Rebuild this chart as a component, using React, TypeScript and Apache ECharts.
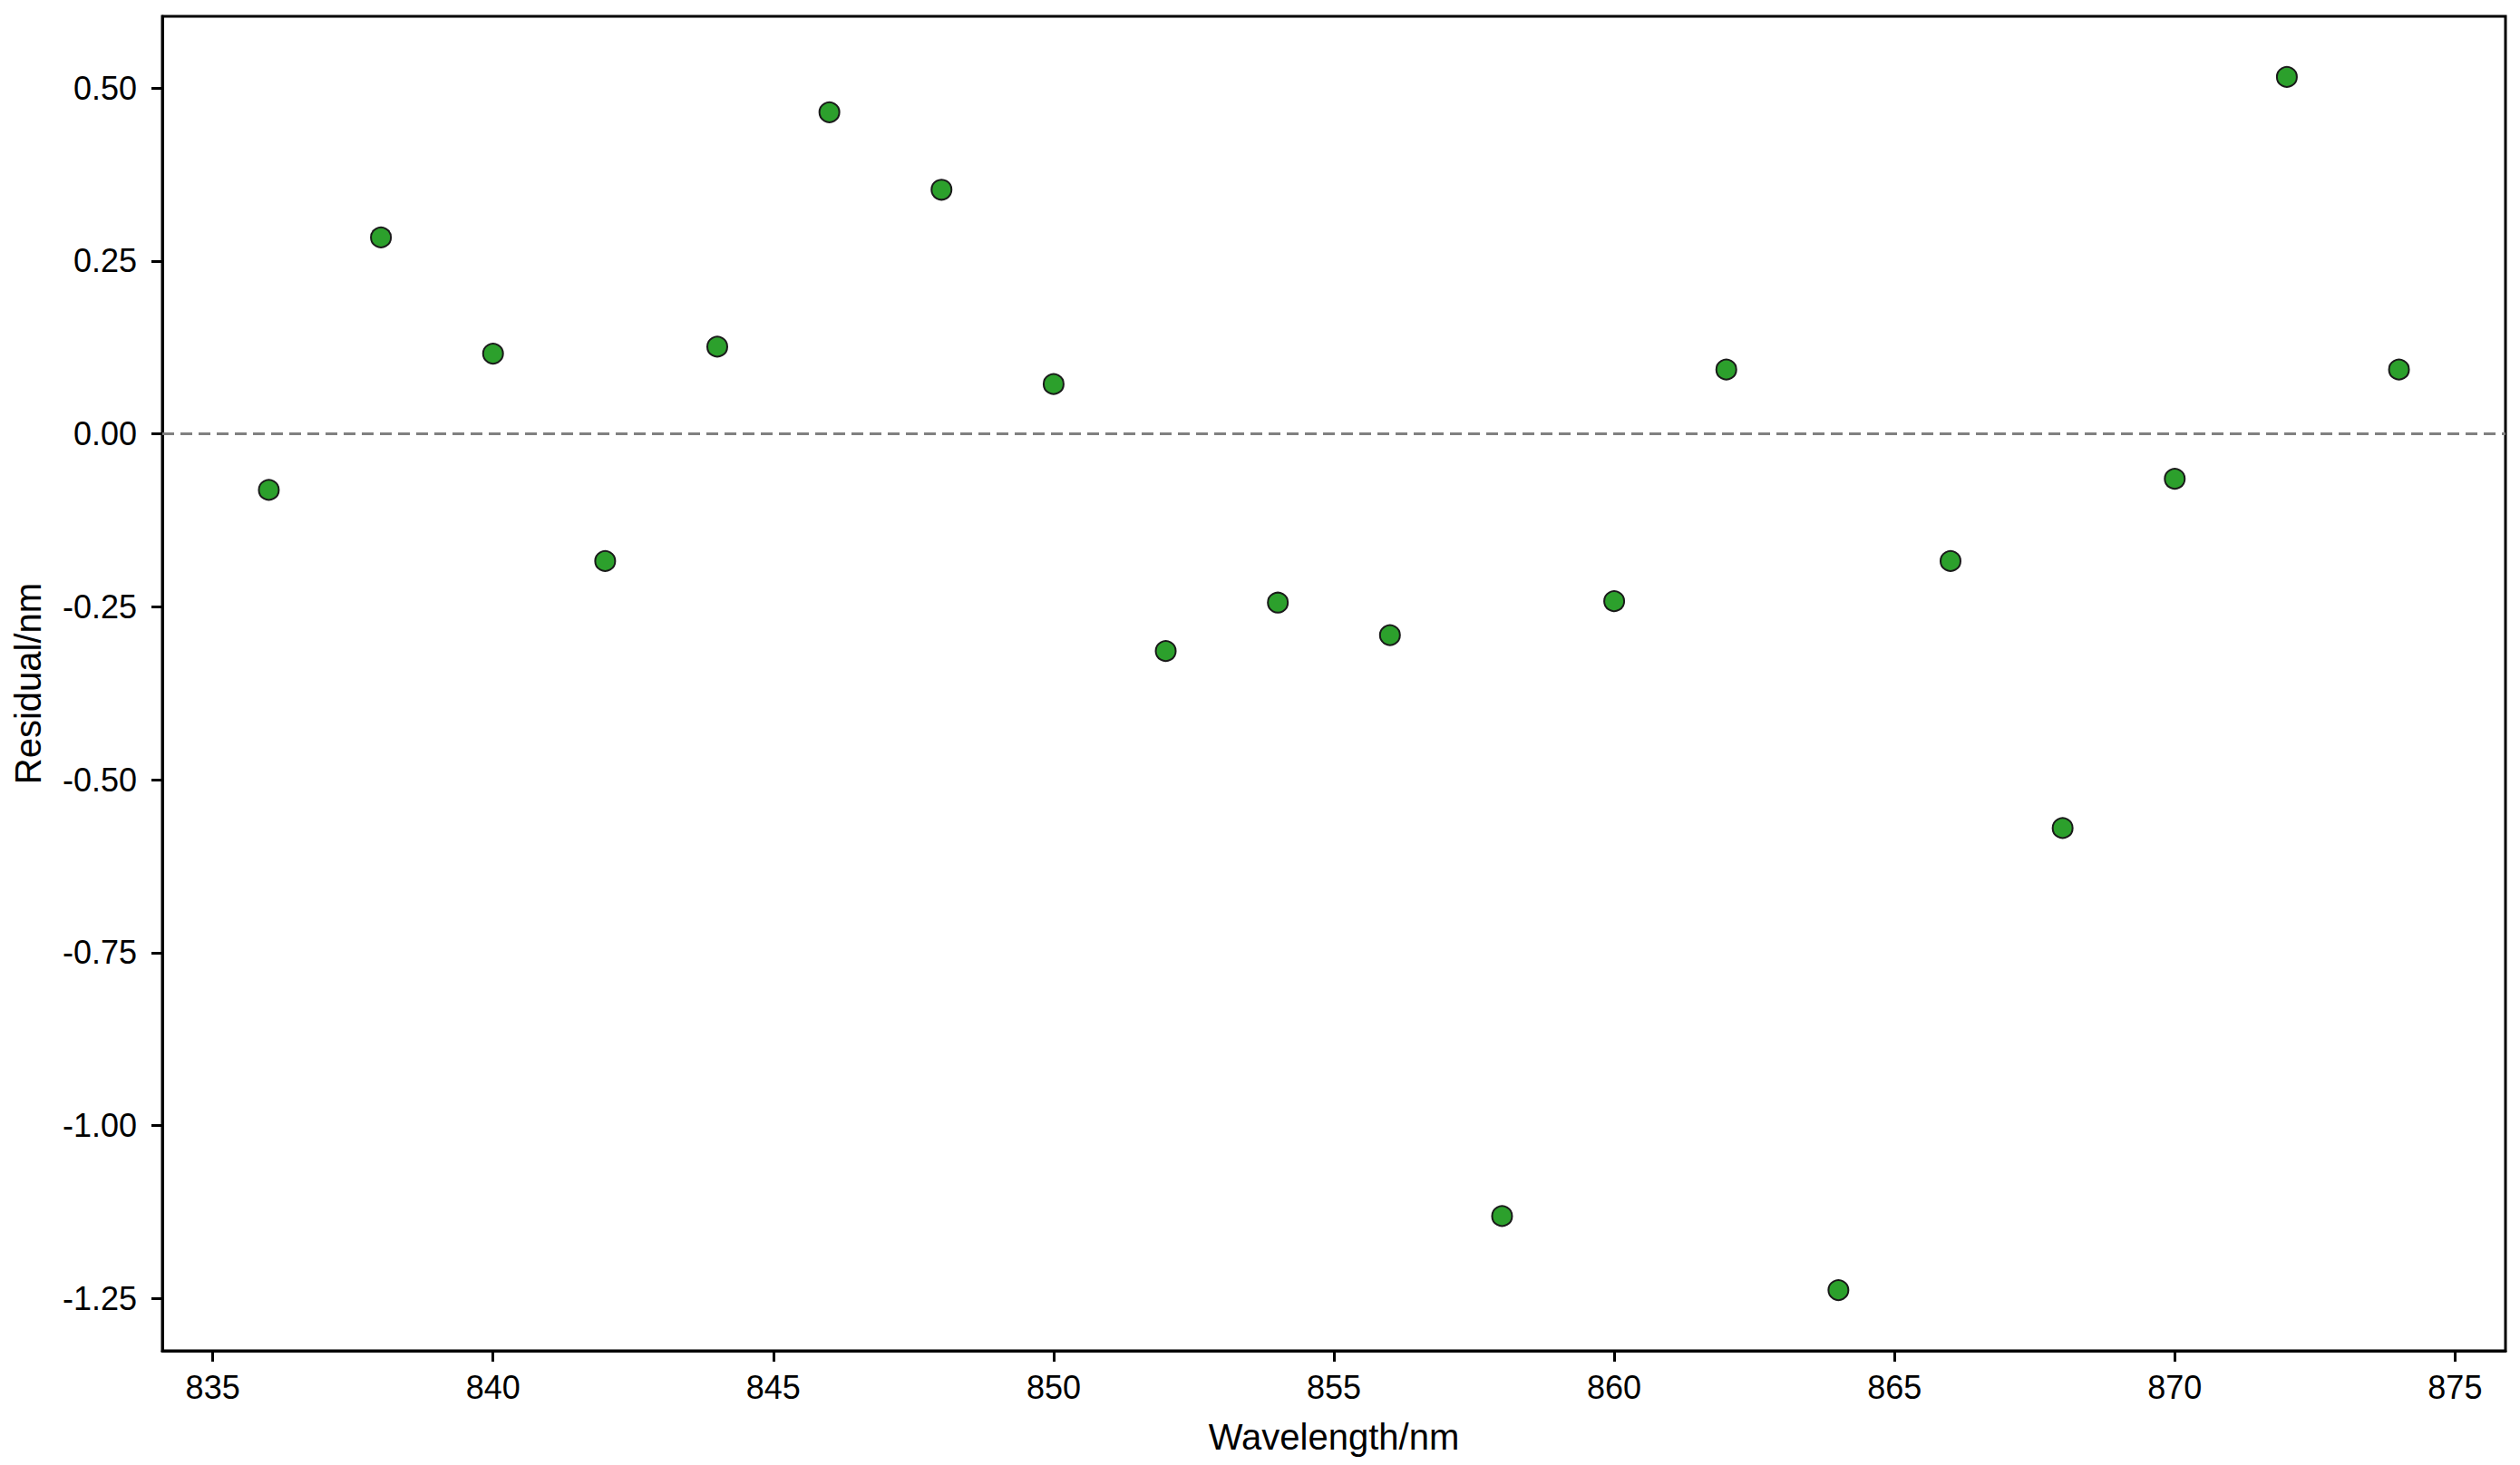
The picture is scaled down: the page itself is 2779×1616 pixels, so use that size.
import React, { useEffect, useRef } from "react";
import * as echarts from "echarts";

const wavelengths = [836, 838, 840, 842, 844, 846, 848, 850, 852, 854, 856, 858, 860, 862, 864, 866, 868, 870, 872, 874];
const residuals = [-0.081, 0.284, 0.116, -0.184, 0.126, 0.465, 0.353, 0.072, -0.314, -0.244, -0.291, -1.131, -0.242, 0.093, -1.238, -0.184, -0.570, -0.065, 0.516, 0.093];
const xTicks = [835, 840, 845, 850, 855, 860, 865, 870, 875];
const yTicks = [-1.25, -1.0, -0.75, -0.5, -0.25, 0, 0.25, 0.5];
const xTitle = "Wavelength/nm";
const yTitle = "Residual/nm";

const FONT = "'Liberation Sans', Arial, Helvetica, sans-serif";

export default function App() {
  const ref = useRef<HTMLDivElement>(null);
  useEffect(() => {
    if (!ref.current) return;
    const chart = echarts.init(ref.current, null, { renderer: "svg" });
    const xMin = Math.min(...wavelengths);
    const xMax = Math.max(...wavelengths);
    const yMin = Math.min(...residuals);
    const yMax = Math.max(...residuals);
    const xPad = (xMax - xMin) * 0.05;
    const yPad = (yMax - yMin) * 0.05;
    const data = wavelengths.map((w, i) => [w, residuals[i]]);
    chart.setOption({
      animation: false,
      backgroundColor: "#ffffff",
      textStyle: { fontFamily: FONT },
      grid: {
        left: 179,
        right: 16,
        top: 18,
        bottom: 126,
        show: true,
        borderColor: "#000",
        borderWidth: 3,
        containLabel: false,
      },
      xAxis: {
        type: "value",
        min: xMin - xPad,
        max: xMax + xPad,
        name: xTitle,
        nameLocation: "middle",
        nameGap: 75,
        nameTextStyle: { fontSize: 40, color: "#000", fontFamily: FONT },
        axisLine: { show: true, onZero: false, lineStyle: { color: "#000", width: 3 } },
        axisTick: { show: true, length: 12, lineStyle: { color: "#000", width: 3 }, customValues: xTicks },
        axisLabel: {
          fontSize: 36,
          color: "#000",
          margin: 22,
          fontFamily: FONT,
          customValues: xTicks,
          formatter: (v: number) => String(Math.round(v)),
        },
        splitLine: { show: false },
      },
      yAxis: {
        type: "value",
        min: yMin - yPad,
        max: yMax + yPad,
        name: yTitle,
        nameLocation: "middle",
        nameGap: 128,
        nameTextStyle: { fontSize: 40, color: "#000", fontFamily: FONT },
        axisLine: { show: true, onZero: false, lineStyle: { color: "#000", width: 3 } },
        axisTick: { show: true, length: 12, lineStyle: { color: "#000", width: 3 }, customValues: yTicks },
        axisLabel: {
          fontSize: 36,
          color: "#000",
          margin: 28,
          fontFamily: FONT,
          customValues: yTicks,
          formatter: (v: number) => v.toFixed(2),
        },
        splitLine: { show: false },
      },
      series: [
        {
          type: "scatter",
          data,
          symbol: "circle",
          symbolSize: 22,
          itemStyle: { color: "#2ca02c", borderColor: "#1a1a1a", borderWidth: 2, opacity: 1 },
          markLine: {
            silent: true,
            symbol: "none",
            label: { show: false },
            lineStyle: { color: "#808080", width: 3, type: [13, 7], opacity: 1 },
            data: [{ yAxis: 0 }],
            z: 1,
          },
          z: 3,
        },
      ],
    });
    return () => chart.dispose();
  }, []);
  return (
    <div
      ref={ref}
      style={{ position: "fixed", left: 0, top: 0, width: 2779, height: 1616, background: "#fff" }}
    />
  );
}
